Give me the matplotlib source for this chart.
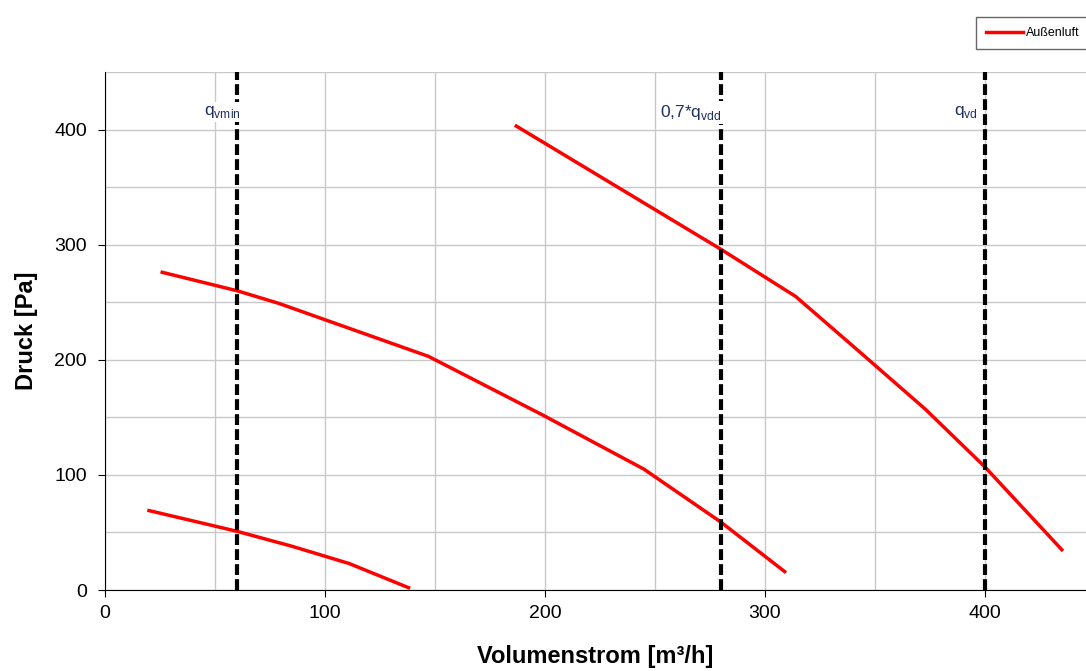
import matplotlib
matplotlib.use("Agg")
import matplotlib.pyplot as plt
from matplotlib.ticker import MultipleLocator

plt.rcParams["font.family"] = ["Liberation Sans", "DejaVu Sans"]

# Kennlinien (Volumenstrom [m³/h], Druck [Pa])
low_x = [20, 60, 85, 111, 138]
low_y = [69, 51, 38, 23, 2]
mid_x = [26, 60, 79, 147, 199, 245, 280, 309]
mid_y = [276, 260, 249, 203, 152, 105, 59, 16]
high_x = [187, 280, 314, 343, 373, 400, 435]
high_y = [403, 296, 255, 207, 157, 107, 35]

# Markierte Volumenströme
marks_x = [60, 280, 400]
marks_lbl = ["q$_\\mathregular{vmin}$", "0,7*q$_\\mathregular{vdd}$", "q$_\\mathregular{vd}$"]
marks_dx = [1.5, 0.5, -3]

fig = plt.figure(figsize=(10.86, 6.71), dpi=100)
ax = fig.add_axes([0.0967, 0.1207, 0.9033, 0.7720])

ax.plot(low_x, low_y, color="red", lw=2.5, label="Außenluft")
ax.plot(mid_x, mid_y, color="red", lw=2.5)
ax.plot(high_x, high_y, color="red", lw=2.5)

for xv, lbl, dx in zip(marks_x, marks_lbl, marks_dx):
    ax.axvline(xv, color="black", lw=3, ls=(0, (2.6, 1)), zorder=3)
    ax.text(xv + dx, 415, lbl, ha="right", va="center", fontsize=12.5,
            color="#1f2f5f", zorder=4,
            bbox=dict(facecolor="white", edgecolor="none", pad=1.5))

ax.set_xlim(0, 446)
ax.set_ylim(0, 450)
ax.xaxis.set_major_locator(MultipleLocator(100))
ax.xaxis.set_minor_locator(MultipleLocator(50))
ax.yaxis.set_major_locator(MultipleLocator(100))
ax.yaxis.set_minor_locator(MultipleLocator(50))
ax.grid(True, which="both", color="#c8c8c8", lw=1)
ax.tick_params(which="major", labelsize=14, length=5, direction="out")
ax.tick_params(axis="y", pad=8)
ax.tick_params(axis="x", pad=6)
ax.tick_params(which="minor", length=0)
ax.spines["top"].set_visible(False)
ax.spines["right"].set_visible(False)

ax.set_xlabel("Volumenstrom [m³/h]", fontsize=17, fontweight="bold", labelpad=16)
ax.set_ylabel("Druck [Pa]", fontsize=17, fontweight="bold", labelpad=12)

ax.legend(loc="upper right", bbox_to_anchor=(1.01, 1.118), fontsize=9,
          frameon=True, fancybox=False, edgecolor="#404040",
          handlelength=3, handletextpad=0.2, borderpad=0.8)

fig.savefig("out.png", dpi=100)
